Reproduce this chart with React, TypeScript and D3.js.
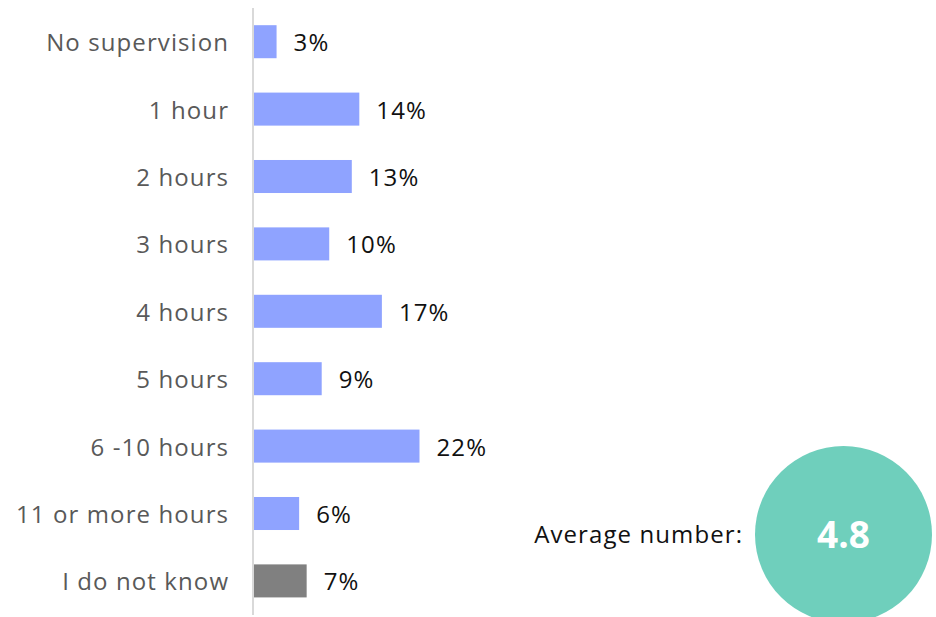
import React from "react";
import * as d3 from "d3";

const categories = [
  "No supervision",
  "1 hour",
  "2 hours",
  "3 hours",
  "4 hours",
  "5 hours",
  "6 -10 hours",
  "11 or more hours",
  "I do not know",
];
const values = [3, 14, 13, 10, 17, 9, 22, 6, 7];
const barColors = ["#8fa3ff", "#8fa3ff", "#8fa3ff", "#8fa3ff", "#8fa3ff", "#8fa3ff", "#8fa3ff", "#8fa3ff", "#808080"];
const averageLabel = "Average number:";
const averageValue = "4.8";

const W = 936;
const H = 617;
const FONT = "'Open Sans', Lato, sans-serif";
const LS = 1.1;

export default function App() {
  const x0 = 254;
  const x = d3.scaleLinear().domain([0, 22]).range([0, 165.5]);
  const y = d3.scaleBand<string>().domain(categories).range([8, 614.6]).paddingInner(0.51).paddingOuter(0.255);
  return (
    <svg width={W} height={H} style={{ position: "absolute", left: 0, top: 0 }}>
      <line x1={253} x2={253} y1={8} y2={615} stroke="#d9d9d9" strokeWidth={2} />
      {categories.map((c, i) => {
        const yy = y(c)!;
        const bw = y.bandwidth();
        const cy = yy + bw / 2;
        return (
          <g key={c}>
            <rect x={x0} y={yy} width={x(values[i])} height={bw} fill={barColors[i]} />
            <text x={228 + LS} y={cy} textAnchor="end" dominantBaseline="central" fontFamily={FONT} fontSize={24} letterSpacing={LS} fill="#595959">
              {c}
            </text>
            <text x={x0 + x(values[i]) + 17} y={cy} dominantBaseline="central" fontFamily={FONT} fontSize={24} letterSpacing={LS} fill="#111111">
              {values[i]}%
            </text>
          </g>
        );
      })}
      <circle cx={843.5} cy={534.5} r={88.5} fill="#6fcfbc" />
      <text x={742 + LS} y={533} textAnchor="end" dominantBaseline="central" fontFamily={FONT} fontSize={24} letterSpacing={LS} fill="#111111">
        {averageLabel}
      </text>
      <text x={843.5} y={533} textAnchor="middle" dominantBaseline="central" fontFamily={FONT} fontWeight="bold" fontSize={37} fill="#ffffff">
        {averageValue}
      </text>
    </svg>
  );
}
